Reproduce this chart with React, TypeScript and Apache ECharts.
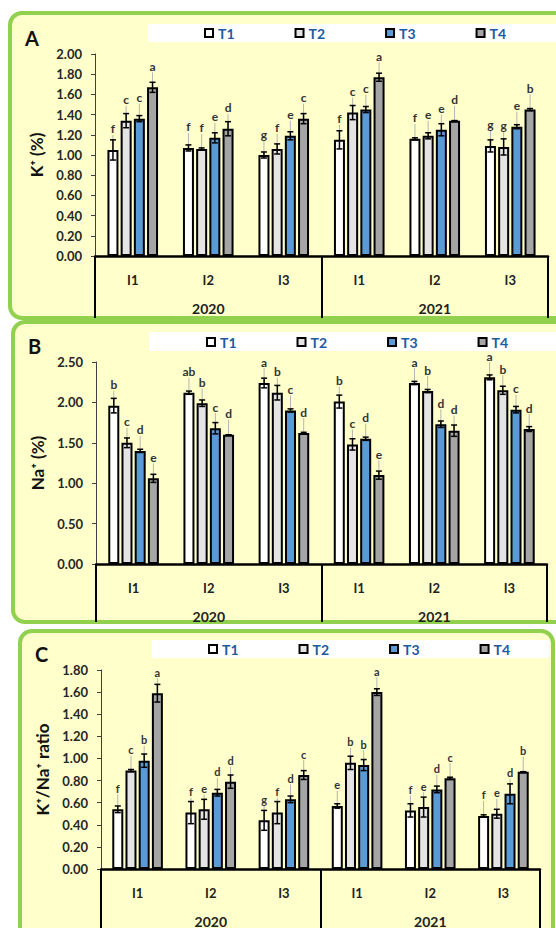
import React, { useEffect, useRef } from "react";
import * as echarts from "echarts";

// Categories
const irrigation = ["I1", "I2", "I3", "I1", "I2", "I3"];
const seasons = ["2020", "2021"];
const treatments = ["T1", "T2", "T3", "T4"];

// K+ (%) means, standard errors and significance letters per treatment
const kT1 = [1.05, 1.07, 1.0, 1.15, 1.16, 1.09];
const kT2 = [1.34, 1.06, 1.06, 1.42, 1.19, 1.08];
const kT3 = [1.36, 1.17, 1.19, 1.45, 1.25, 1.28];
const kT4 = [1.67, 1.26, 1.36, 1.77, 1.34, 1.45];
const kErrT1 = [0.1, 0.03, 0.03, 0.09, 0.01, 0.06];
const kErrT2 = [0.07, 0.01, 0.05, 0.07, 0.03, 0.08];
const kErrT3 = [0.03, 0.05, 0.04, 0.03, 0.06, 0.02];
const kErrT4 = [0.05, 0.07, 0.05, 0.04, 0.0, 0.01];
const kLetT1 = ["f", "f", "g", "f", "f", "g"];
const kLetT2 = ["c", "f", "f", "c", "e", "g"];
const kLetT3 = ["c", "e", "e", "c", "e", "e"];
const kLetT4 = ["a", "d", "c", "a", "d", "b"];

// Na+ (%)
const naT1 = [1.96, 2.12, 2.24, 2.01, 2.24, 2.31];
const naT2 = [1.5, 1.99, 2.12, 1.48, 2.14, 2.15];
const naT3 = [1.4, 1.68, 1.9, 1.55, 1.73, 1.91];
const naT4 = [1.06, 1.6, 1.62, 1.1, 1.65, 1.67];
const naErrT1 = [0.09, 0.02, 0.06, 0.08, 0.02, 0.03];
const naErrT2 = [0.06, 0.04, 0.09, 0.07, 0.02, 0.05];
const naErrT3 = [0.02, 0.07, 0.02, 0.02, 0.04, 0.04];
const naErrT4 = [0.05, 0.0, 0.01, 0.05, 0.07, 0.03];
const naLetT1 = ["b", "ab", "a", "b", "a", "a"];
const naLetT2 = ["c", "b", "b", "c", "b", "b"];
const naLetT3 = ["d", "c", "c", "d", "d", "c"];
const naLetT4 = ["e", "d", "d", "e", "d", "d"];

// K+/Na+ ratio
const rT1 = [0.54, 0.51, 0.44, 0.57, 0.53, 0.48];
const rT2 = [0.89, 0.54, 0.51, 0.96, 0.56, 0.5];
const rT3 = [0.98, 0.69, 0.63, 0.94, 0.72, 0.68];
const rT4 = [1.59, 0.79, 0.85, 1.6, 0.82, 0.88];
const rErrT1 = [0.03, 0.1, 0.09, 0.02, 0.06, 0.01];
const rErrT2 = [0.01, 0.09, 0.1, 0.06, 0.09, 0.04];
const rErrT3 = [0.06, 0.03, 0.03, 0.05, 0.03, 0.09];
const rErrT4 = [0.08, 0.06, 0.04, 0.03, 0.01, 0.0];
const rLetT1 = ["f", "f", "g", "e", "f", "f"];
const rLetT2 = ["c", "e", "f", "b", "e", "e"];
const rLetT3 = ["b", "d", "d", "b", "d", "d"];
const rLetT4 = ["a", "d", "c", "a", "c", "b"];

const barFills = ["#ffffff", "#e4e4e4", "#5b9bd5", "#a5a5a5"];
const FONT = "Lato, 'Open Sans', sans-serif";
const BAR_W = 11;
const GAP_RATIO = 0.2;

const panels = [
  {
    tag: "A",
    title: "K\u207A (%)",
    max: 2,
    interval: 0.2,
    values: [kT1, kT2, kT3, kT4],
    errors: [kErrT1, kErrT2, kErrT3, kErrT4],
    letters: [kLetT1, kLetT2, kLetT3, kLetT4],
    grid: { left: 95, right: 8, top: 54, height: 202 },
    nameGap: 44,
    box: { x: 10, y: 13, width: 580, height: 305 },
    strip: { x: 148, y: 24, width: 420, height: 18 },
    legendLeft: 204,
    legendTop: 26,
    tagPos: { x: 25, y: 28 },
    tickLen: 62,
    letterSize: 12,
  },
  {
    tag: "B",
    title: "Na\u207A (%)",
    max: 2.5,
    interval: 0.5,
    values: [naT1, naT2, naT3, naT4],
    errors: [naErrT1, naErrT2, naErrT3, naErrT4],
    letters: [naLetT1, naLetT2, naLetT3, naLetT4],
    grid: { left: 96, right: 9, top: 362, height: 202 },
    nameGap: 45,
    box: { x: 13, y: 322, width: 580, height: 300 },
    strip: { x: 149, y: 332, width: 420, height: 19 },
    legendLeft: 206,
    legendTop: 335,
    tagPos: { x: 28, y: 336 },
    tickLen: 58,
    letterSize: 12,
  },
  {
    tag: "C",
    title: "K\u207A/Na\u207A ratio",
    max: 1.8,
    interval: 0.2,
    values: [rT1, rT2, rT3, rT4],
    errors: [rErrT1, rErrT2, rErrT3, rErrT4],
    letters: [rLetT1, rLetT2, rLetT3, rLetT4],
    grid: { left: 101, right: 16, top: 670, height: 202 },
    nameGap: 47,
    box: { x: 20, y: 631, width: 533, height: 330 },
    strip: { x: 152, y: 640, width: 397, height: 18 },
    legendLeft: 208,
    legendTop: 642,
    tagPos: { x: 35, y: 644 },
    tickLen: 60,
    letterSize: 11,
  },
];

function barOffset(t: number) {
  const gap = BAR_W * GAP_RATIO;
  const total = treatments.length * BAR_W + (treatments.length - 1) * gap;
  return -total / 2 + t * (BAR_W + gap) + BAR_W / 2;
}

function buildOption() {
  const graphic: any[] = [];
  const legend: any[] = [];
  const grid: any[] = [];
  const xAxis: any[] = [];
  const yAxis: any[] = [];
  const series: any[] = [];

  panels.forEach((p, pi) => {
    graphic.push({
      type: "rect",
      z: -10,
      shape: { ...p.box, r: 12 },
      style: { fill: "#ffffcc", stroke: "#92d050", lineWidth: 4 },
      silent: true,
    });
    graphic.push({
      type: "rect",
      z: -9,
      shape: p.strip,
      style: { fill: "#ffffff" },
      silent: true,
    });
    graphic.push({
      type: "text",
      z: 10,
      x: p.tagPos.x,
      y: p.tagPos.y,
      style: { text: p.tag, font: `bold 20px ${FONT}`, fill: "#111111" },
    });

    legend.push({
      data: treatments,
      left: p.legendLeft,
      top: p.legendTop,
      padding: 0,
      itemGap: 60,
      itemWidth: 8,
      itemHeight: 8,
      icon: "rect",
      selectedMode: false,
      textStyle: { color: "#1e5aa0", fontWeight: "bold", fontSize: 14, fontFamily: FONT },
    });

    grid.push({ ...p.grid, containLabel: false });

    // irrigation level axis
    xAxis.push({
      type: "category",
      gridIndex: pi,
      data: irrigation,
      axisLine: { show: true, lineStyle: { color: "#000000", width: 2.5 } },
      axisTick: { show: false },
      axisLabel: { margin: 17, color: "#222222", fontWeight: "bold", fontSize: 13, fontFamily: FONT },
      z: 5,
    });
    // season axis: ticks split the two years below the chart
    xAxis.push({
      type: "category",
      gridIndex: pi,
      data: seasons,
      position: "bottom",
      axisLine: { show: false },
      axisTick: { show: true, length: p.tickLen, lineStyle: { color: "#000000", width: 2 } },
      axisLabel: { margin: 45, color: "#222222", fontWeight: "bold", fontSize: 14, fontFamily: FONT },
      z: 5,
    });

    yAxis.push({
      type: "value",
      gridIndex: pi,
      min: 0,
      max: p.max,
      interval: p.interval,
      name: p.title,
      nameLocation: "middle",
      nameRotate: 90,
      nameGap: p.nameGap,
      nameTextStyle: { fontWeight: "bold", fontSize: 17, color: "#111111", fontFamily: FONT },
      axisLine: { show: true, lineStyle: { color: "#404040", width: 1 } },
      axisTick: { show: true, length: 4, lineStyle: { color: "#404040" } },
      splitLine: { show: false },
      axisLabel: {
        margin: 13,
        color: "#262626",
        fontWeight: "bold",
        fontSize: 13,
        fontFamily: FONT,
        formatter: (v: number) => v.toFixed(2),
      },
      z: 5,
    });

    treatments.forEach((name, t) => {
      series.push({
        type: "bar",
        name,
        xAxisIndex: pi * 2,
        yAxisIndex: pi,
        data: p.values[t],
        barWidth: BAR_W,
        barGap: `${GAP_RATIO * 100}%`,
        itemStyle: { color: barFills[t], borderColor: "#000000", borderWidth: 2 },
        z: 3,
      });
    });

    // error bars with significance letters
    const errData: number[][] = [];
    const errLetters: string[] = [];
    treatments.forEach((_, t) => {
      p.values[t].forEach((v, c) => {
        errData.push([c, t, v, p.errors[t][c]]);
        errLetters.push(p.letters[t][c]);
      });
    });
    series.push({
      type: "custom",
      name: `se-${p.tag}`,
      xAxisIndex: pi * 2,
      yAxisIndex: pi,
      silent: true,
      z: 6,
      encode: { x: 0, y: 2 },
      data: errData,
      renderItem: (params: any, api: any) => {
        const c = api.value(0);
        const t = api.value(1);
        const v = api.value(2);
        const e = api.value(3);
        const top = api.coord([c, v]);
        const x = top[0] + barOffset(t);
        const yTop = top[1];
        const yHi = api.coord([c, v + e])[1];
        const yLo = api.coord([c, v - e])[1];
        const cy = Math.min(yTop - 21, yHi - 9);
        const cap = 3;
        return {
          type: "group",
          children: [
            { type: "line", shape: { x1: x, y1: cy + 6, x2: x, y2: yTop }, style: { stroke: "#b5b5b5", lineWidth: 1 } },
            { type: "line", shape: { x1: x, y1: yHi, x2: x, y2: yLo }, style: { stroke: "#000000", lineWidth: 1.5 } },
            { type: "line", shape: { x1: x - cap, y1: yHi, x2: x + cap, y2: yHi }, style: { stroke: "#000000", lineWidth: 1.5 } },
            { type: "line", shape: { x1: x - cap, y1: yLo, x2: x + cap, y2: yLo }, style: { stroke: "#000000", lineWidth: 1.5 } },
            {
              type: "text",
              style: {
                text: errLetters[params.dataIndex],
                x,
                y: cy,
                align: "center",
                verticalAlign: "middle",
                font: `bold ${p.letterSize}px ${FONT}`,
                fill: "#333333",
              },
            },
          ],
        };
      },
    });
  });

  return {
    animation: false,
    backgroundColor: "#ffffff",
    textStyle: { fontFamily: FONT },
    graphic,
    legend,
    grid,
    xAxis,
    yAxis,
    series,
  };
}

export default function App() {
  const ref = useRef<HTMLDivElement>(null);
  useEffect(() => {
    if (!ref.current) return;
    const chart = echarts.init(ref.current, undefined, { renderer: "svg" });
    chart.setOption(buildOption() as any);
    return () => chart.dispose();
  }, []);
  return (
    <div
      ref={ref}
      style={{ position: "absolute", left: 0, top: 0, width: 556, height: 928 }}
    />
  );
}
